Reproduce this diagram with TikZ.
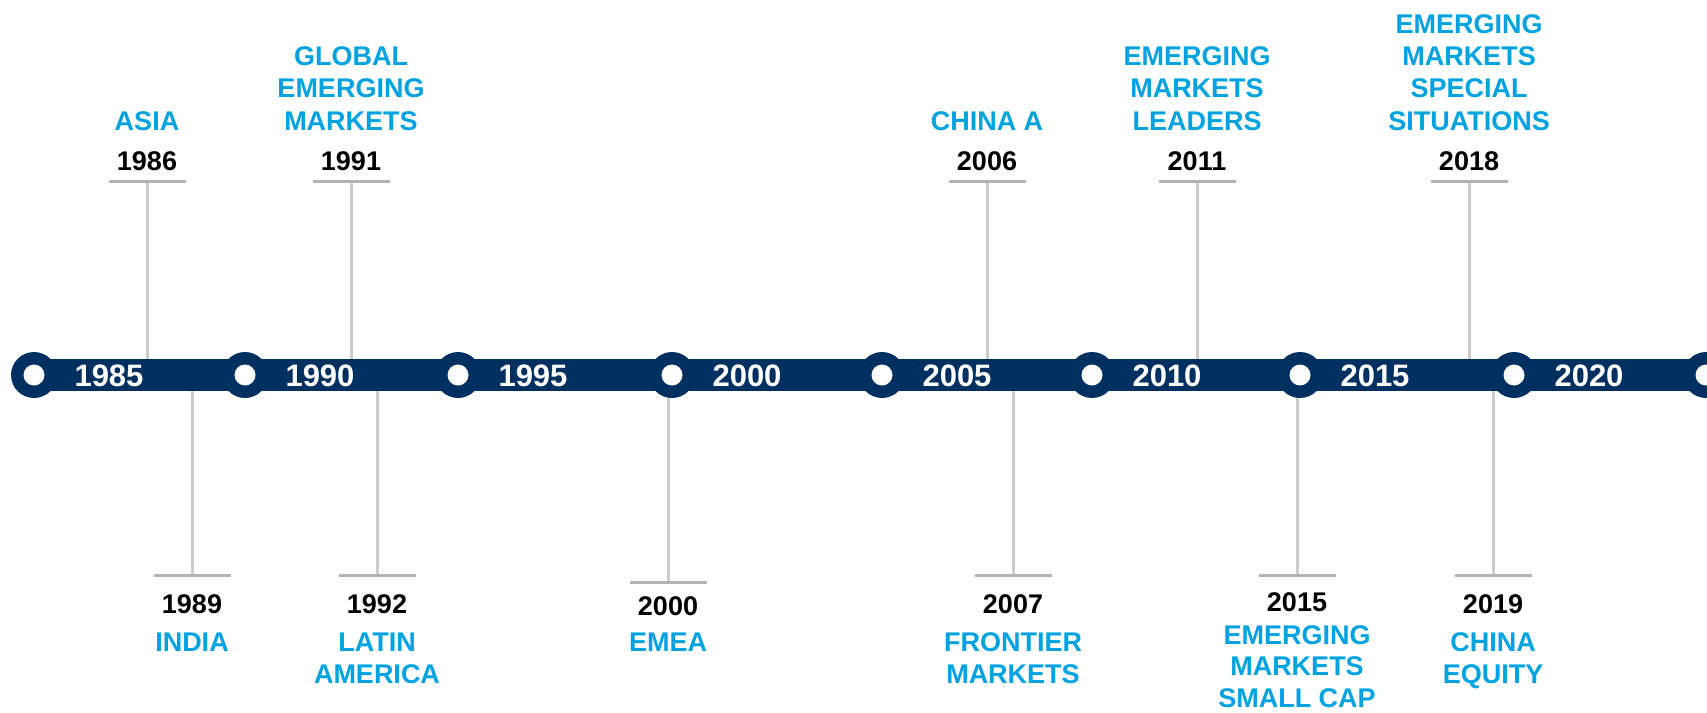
\documentclass[tikz,border=0pt]{standalone}
\usepackage{fontspec}
\setmainfont{Liberation Sans}
\definecolor{navy}{HTML}{00305F}
\definecolor{cyanlbl}{HTML}{00A3E0}
\definecolor{stemgray}{HTML}{CCCCCC}
\definecolor{capgray}{HTML}{B3B3B3}
\begin{document}
\begin{tikzpicture}[x=1pt,y=-1pt,
  stemline/.style={draw=stemgray,line width=3pt},
  capline/.style={draw=capgray,line width=3.4pt},
  yearlbl/.style={font=\fontsize{27}{32.4}\selectfont\bfseries, text=black, inner sep=0pt, anchor=base},
  fundlbl/.style={font=\fontsize{27}{32.3}\selectfont\bfseries, text=cyanlbl, inner sep=0pt, align=center},
  barlbl/.style={font=\fontsize{31}{36}\selectfont\bfseries, text=white, inner sep=0pt, anchor=base},
  ring/.style={circle, fill=navy, minimum size=46pt, inner sep=0pt},
  hole/.style={circle, fill=white, minimum size=21pt, inner sep=0pt}]
\useasboundingbox (0,0) rectangle (1707,712);
\clip (0,0) rectangle (1707,712);

% upper stems and labels
\foreach \x/\yr/\txt [count=\i] in {147/1986/{ASIA}, 351/1991/{GLOBAL\\EMERGING\\MARKETS}, 987/2006/{CHINA A}, 1197/2011/{EMERGING\\MARKETS\\LEADERS}, 1469/2018/{EMERGING\\MARKETS\\SPECIAL\\SITUATIONS}}{
  \coordinate (ucap\i) at (\x,181.5);
  \draw[stemline] (ucap\i) -- (\x,365);
  \draw[capline] ([xshift=-38.5pt]ucap\i) -- ([xshift=38.5pt]ucap\i);
  \node[yearlbl] (uyear\i) at (\x,170) {\yr};
  \node[fundlbl, anchor=south] (ufund\i) at (\x,130.5) {\txt};
}

% lower stems and labels
\foreach \x/\cy/\by/\ty/\ls/\yr/\txt [count=\i] in {192/575.5/613/632.5/32.3/1989/{INDIA}, 377/575.5/613/632.5/32.3/1992/{LATIN\\AMERICA}, 668/582.5/615/633/32.3/2000/{EMEA}, 1013/575.5/613/632/32.3/2007/{FRONTIER\\MARKETS}, 1297/575.5/611.5/625/31.6/2015/{EMERGING\\MARKETS\\SMALL CAP}, 1493/575.5/613/632.5/32.3/2019/{CHINA\\EQUITY}}{
  \coordinate (lcap\i) at (\x,\cy);
  \draw[stemline] (\x,385) -- (lcap\i);
  \draw[capline] ([xshift=-38.5pt]lcap\i) -- ([xshift=38.5pt]lcap\i);
  \node[yearlbl] (lyear\i) at (\x,\by) {\yr};
  \node[fundlbl, anchor=north, font=\fontsize{27}{\ls}\selectfont\bfseries] (lfund\i) at (\x,\ty) {\txt};
}

% bar
\fill[navy] (34,359) rectangle (1706,391);
\foreach \x/\yr [count=\i] in {34/1985, 245/1990, 458/1995, 672/2000, 882/2005, 1092/2010, 1300/2015, 1514/2020}{
  \node[ring] (ring\i) at (\x,375) {};
  \node[hole] (hole\i) at (ring\i) {};
  \node[barlbl] (bar\i) at (\x+75,386.5) {\yr};
}
\node[ring] (ring9) at (1706,375) {};
\node[hole] (hole9) at (ring9) {};
\end{tikzpicture}
\end{document}
